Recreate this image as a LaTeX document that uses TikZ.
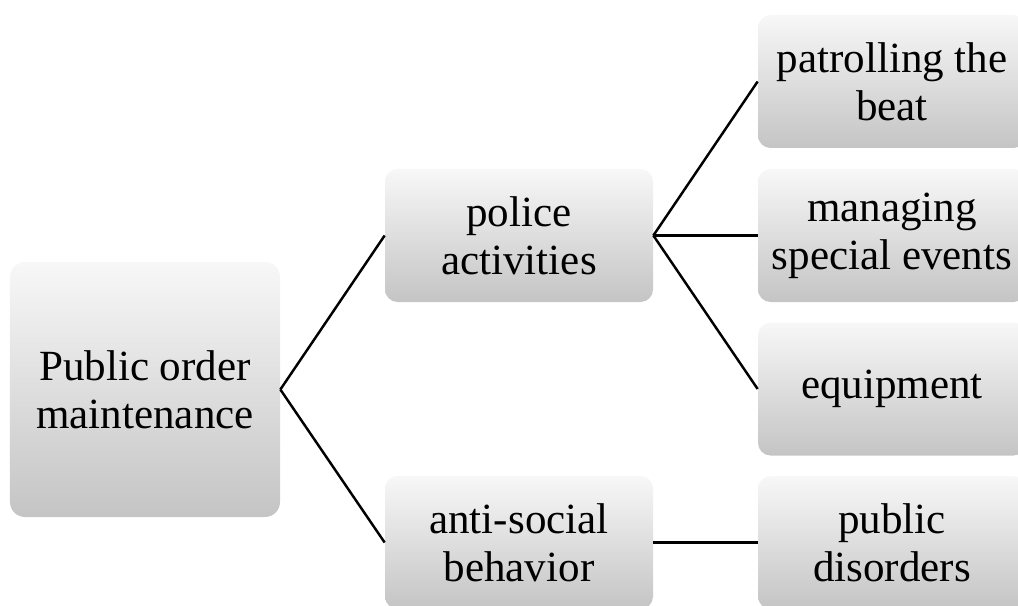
\documentclass[tikz,border=0pt]{standalone}
\usepackage{fontspec}
\setmainfont{Liberation Serif}
\usetikzlibrary{positioning}

\begin{document}
\begin{tikzpicture}[
    box/.style={rectangle, rounded corners=0.25cm, top color=white!97!black, bottom color=black!23,
                minimum width=5.36cm, minimum height=2.66cm, align=center,
                font=\fontsize{24.5}{27.5}\selectfont},
    link/.style={line width=1.4pt, black}
]
    \useasboundingbox (0,0) rectangle (20.36,-12.1);
    \clip (0,0) rectangle (20.36,-12.1);

    % Root
    \node[box, rounded corners=0.3cm, minimum width=5.4cm, minimum height=5.1cm] (root) at (2.9,-7.79) {Public order\\maintenance};

    % Second level
    \node[box] (police) at (10.38,-4.71) {police\\activities};
    \node[box] (anti) at (10.38,-10.85) {anti-social\\behavior};

    % Third level
    \node[box] (patrol) at (17.84,-1.63) {patrolling the\\beat};
    \node[box] (events) at (17.84,-4.71) {managing\\special events};
    \node[box] (equip) at (17.84,-7.78) {equipment};
    \node[box] (disorder) at (17.84,-10.85) {public\\disorders};

    % Links
    \draw[link] (root.east) -- (police.west);
    \draw[link] (root.east) -- (anti.west);
    \draw[link] (police.east) -- (patrol.west);
    \draw[link] (police.east) -- (events.west);
    \draw[link] (police.east) -- (equip.west);
    \draw[link] (anti.east) -- (disorder.west);
\end{tikzpicture}
\end{document}
